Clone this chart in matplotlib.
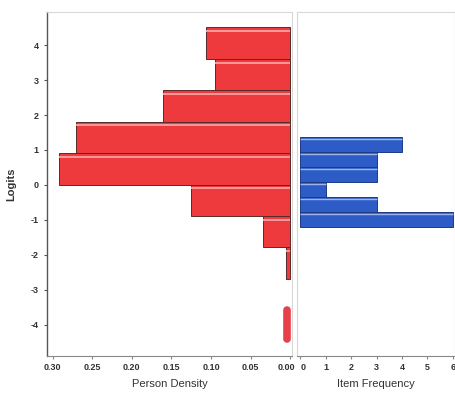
import matplotlib
matplotlib.use('Agg')
import matplotlib.pyplot as plt
import matplotlib.transforms as mtransforms

# person density histogram (logit bin centers, density)
person_logits = [4.06, 3.16, 2.26, 1.36, 0.46, -0.44, -1.34, -2.24]
person_density = [0.106, 0.095, 0.161, 0.270, 0.292, 0.125, 0.035, 0.005]
person_bin = 0.9

# extreme person marker
extreme_logit = -4.0
extreme_density = 0.008

# item frequency histogram
item_logits = [1.165, 0.735, 0.305, -0.125, -0.555, -0.985]
item_counts = [4, 3, 3, 1, 3, 6]
item_bin = 0.43

x_left_ticks = [0.30, 0.25, 0.20, 0.15, 0.10, 0.05, 0.00]
x_right_ticks = [0, 1, 2, 3, 4, 5, 6]
y_ticks = [4, 3, 2, 1, 0, -1, -2, -3, -4]

red = '#ee3a3c'
red_hi = '#f9a3a3'
blue = '#2d5cc6'
blue_hi = '#9fb4ea'

plt.rcParams['font.family'] = ['Liberation Sans', 'DejaVu Sans']

fig = plt.figure(figsize=(4.56, 3.98), dpi=100)
W, H = 456.0, 398.0
ax1 = fig.add_axes([47 / W, 1 - 356 / H, (292 - 47) / W, (356 - 12) / H])
ax2 = fig.add_axes([297 / W, 1 - 356 / H, (455 - 297) / W, (356 - 12) / H])

# left: person density
ax1.barh(person_logits, person_density, height=person_bin, color=red,
         edgecolor='#5a2a2a', linewidth=0.7)
for y, d in zip(person_logits, person_density):
    ax1.plot([d, 0], [y + person_bin * 0.38] * 2, color=red_hi, lw=1.3,
             solid_capstyle='butt')
ax1.plot([extreme_density / 2] * 2, [extreme_logit - 0.42, extreme_logit + 0.42],
         color='#e8404a', lw=5.5, solid_capstyle='round')

ax1.set_xlim(0.307, -0.002)
ax1.set_ylim(-4.9, 4.95)
ax1.set_xticks(x_left_ticks)
ax1.set_xticklabels(['%.2f' % v for v in x_left_ticks])
ax1.set_yticks(y_ticks)
ax1.set_yticklabels([str(v) for v in y_ticks])
ax1.set_xlabel('Person Density', fontsize=8, color='#333333', labelpad=5)
ax1.set_ylabel('Logits', fontsize=8, color='#333333', fontweight='bold', labelpad=10)

# right: item frequency
ax2.barh(item_logits, item_counts, height=item_bin, color=blue,
         edgecolor='#1c3a88', linewidth=0.7)
for y, c in zip(item_logits, item_counts):
    ax2.plot([0, c], [y + item_bin * 0.32] * 2, color=blue_hi, lw=1.0,
             solid_capstyle='butt')
ax2.set_xlim(-0.12, 6.08)
ax2.set_ylim(-4.9, 4.95)
ax2.set_xticks(x_right_ticks)
ax2.set_yticks([])
ax2.set_xlabel('Item Frequency', fontsize=8, color='#333333', labelpad=5)

for ax in (ax1, ax2):
    for s in ax.spines.values():
        s.set_color('#d8d8d8')
        s.set_linewidth(0.8)
    ax.spines['bottom'].set_color('#888888')
    ax.tick_params(axis='x', labelsize=6.5, length=2, color='#888888',
                   labelcolor='#333333', pad=3)
    for lab in ax.get_xticklabels():
        lab.set_fontweight('bold')
ax1.spines['left'].set_color('#555555')
ax1.spines['left'].set_linewidth(1.0)
ax1.tick_params(axis='y', labelsize=6.5, length=2, color='#555555',
                labelcolor='#333333', pad=4)
for lab in ax1.get_yticklabels():
    lab.set_fontweight('bold')

# nudge the two zero labels apart where the panels meet
lab0 = ax1.get_xticklabels()[-1]
lab0.set_transform(lab0.get_transform() +
                   mtransforms.ScaledTranslation(-4 / 100, 0, fig.dpi_scale_trans))
lab0r = ax2.get_xticklabels()[0]
lab0r.set_transform(lab0r.get_transform() +
                    mtransforms.ScaledTranslation(3 / 100, 0, fig.dpi_scale_trans))

fig.savefig('out.png', dpi=100)
